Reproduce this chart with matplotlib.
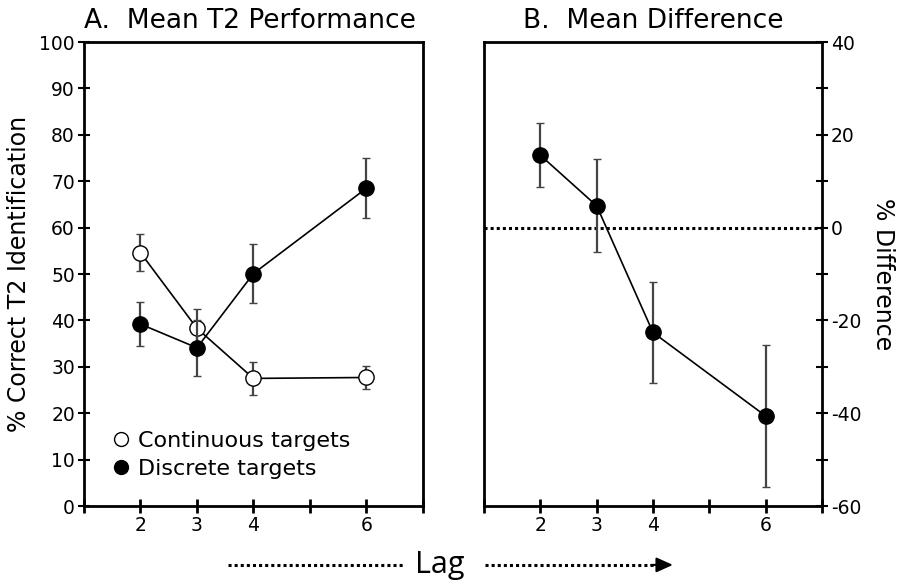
import matplotlib.pyplot as plt
from matplotlib.lines import Line2D
from matplotlib.ticker import MultipleLocator

lags = [2, 3, 4, 6]

cont_mean = [54.6, 38.3, 27.5, 27.7]
cont_err = [4.0, 4.1, 3.6, 2.4]
disc_mean = [39.2, 34.1, 50.1, 68.5]
disc_err = [4.8, 6.0, 6.3, 6.4]

diff_mean = [15.6, 4.7, -22.6, -40.6]
diff_err = [6.9, 10.0, 10.8, 15.4]

plt.rcParams['font.family'] = ['DejaVu Sans']
plt.rcParams['axes.unicode_minus'] = False

fig = plt.figure(figsize=(9.02, 5.86), dpi=100)
ax1 = fig.add_axes([0.0931, 0.1365, 0.3758, 0.7918])
ax2 = fig.add_axes([0.5366, 0.1365, 0.3747, 0.7918])

ecol = "#444444"
ms = 11

ax1.errorbar(lags, cont_mean, yerr=cont_err, color="black", ecolor=ecol, elinewidth=1.6,
             capsize=3, capthick=1.6, marker="o", ms=ms, mfc="white", mec="black", mew=1,
             lw=1.2, zorder=3)
ax1.errorbar(lags, disc_mean, yerr=disc_err, color="black", ecolor=ecol, elinewidth=1.6,
             capsize=3, capthick=1.6, marker="o", ms=ms, mfc="black", mec="black", mew=1,
             lw=1.2, zorder=4)
ax1.set_xlim(1, 7)
ax1.set_ylim(0, 100)
ax1.set_yticks(range(0, 101, 10))
ax1.set_xticks([1, 2, 3, 4, 5, 6, 7])
ax1.set_xticklabels(["", "2", "3", "4", "", "6", ""])
ax1.set_ylabel("% Correct T2 Identification", fontsize=17, labelpad=6)
ax1.set_title("A.  Mean T2 Performance", fontsize=19, loc="left", pad=10)

handles = [Line2D([], [], ls="none", marker="o", ms=10, mfc="white", mec="black", mew=1),
           Line2D([], [], ls="none", marker="o", ms=10, mfc="black", mec="black", mew=1)]
ax1.legend(handles, ["Continuous targets", "Discrete targets"], loc="lower left",
           frameon=False, fontsize=16, handletextpad=0.0, handlelength=1.5,
           labelspacing=0.35, borderaxespad=0, bbox_to_anchor=(0.035, 0.04))

ax2.axhline(0, color="black", ls=(0, (1, 1)), lw=2.2, zorder=1)
ax2.errorbar(lags, diff_mean, yerr=diff_err, color="black", ecolor=ecol, elinewidth=1.6,
             capsize=3, capthick=1.6, marker="o", ms=ms, mfc="black", mec="black", mew=1,
             lw=1.2, zorder=3)
ax2.set_xlim(1, 7)
ax2.set_ylim(-60, 40)
ax2.set_yticks(range(-60, 41, 20))
ax2.yaxis.set_minor_locator(MultipleLocator(10))
ax2.set_xticks([1, 2, 3, 4, 5, 6, 7])
ax2.set_xticklabels(["", "2", "3", "4", "", "6", ""])
ax2.yaxis.tick_right()
ax2.yaxis.set_label_position("right")
ax2.set_ylabel("% Difference", fontsize=17, rotation=270, labelpad=24)
ax2.set_title("B.  Mean Difference", fontsize=19, loc="center", pad=10)
ax2.tick_params(axis="y", which="minor", direction="inout", length=9, width=1.5)

for ax in (ax1, ax2):
    for s in ax.spines.values():
        s.set_linewidth(2)
    ax.tick_params(axis="x", direction="inout", length=10, width=2, labelsize=13.5, pad=2)
    ax.tick_params(axis="y", which="major", direction="inout", length=9, width=1.5,
                   labelsize=13.5, pad=2)

fig.text(0.4875, 0.036, "Lag", fontsize=22, ha="center", va="center", family="Open Sans")
fig.add_artist(Line2D([0.253, 0.449], [0.036, 0.036], transform=fig.transFigure,
                      color="black", ls=(0, (1, 1)), lw=2.2))
fig.add_artist(Line2D([0.538, 0.726], [0.036, 0.036], transform=fig.transFigure,
                      color="black", ls=(0, (1, 1)), lw=2.2))
ax1.annotate("", xy=(0.746, 0.036), xytext=(0.722, 0.036), xycoords="figure fraction",
             textcoords="figure fraction",
             arrowprops=dict(arrowstyle="-|>,head_length=1.0,head_width=0.45",
                             color="black", lw=1.5, shrinkA=0, shrinkB=0),
             annotation_clip=False)

plt.savefig("out.png", dpi=100)
